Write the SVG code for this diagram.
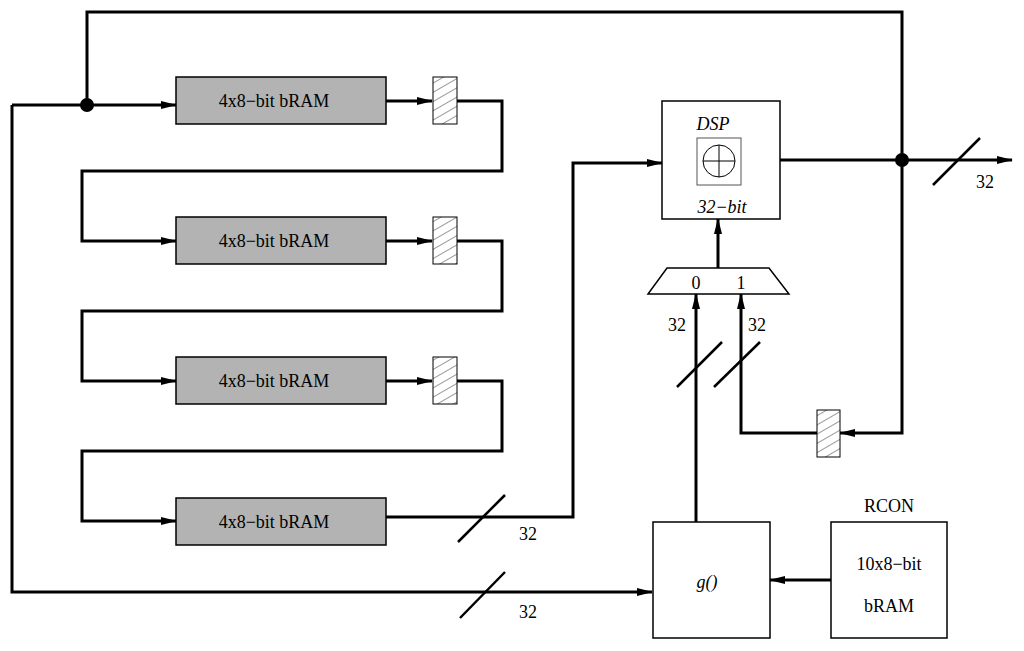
<svg xmlns="http://www.w3.org/2000/svg" width="1024" height="651" viewBox="0 0 1024 651">
<style>
.w{fill:none;stroke:#000;stroke-width:3}
.b{fill:#fff;stroke:#000;stroke-width:1.5}
.g{fill:#b3b3b3;stroke:#000;stroke-width:1.5}
.h{fill:url(#hatch);stroke:#000;stroke-width:1}
text{font-family:"Liberation Serif",serif;font-size:18px;text-anchor:middle}
.i{font-style:italic}
</style>
<defs>
<pattern id="hatch" width="8" height="8" patternUnits="userSpaceOnUse" patternTransform="rotate(-30)">
<rect width="8" height="8" fill="#fff"/><line x1="0" y1="0" x2="8" y2="0" stroke="#555" stroke-width="1.2"/>
</pattern>
<marker id="a" markerWidth="16" markerHeight="8" refX="15" refY="4" orient="auto" markerUnits="userSpaceOnUse"><path d="M0,0 L16,4 L0,8 Z"/></marker>
</defs>
<g id="connectors">
<path class="w" d="M386,101 H432" marker-end="url(#a)"/>
<path class="w" d="M456,101 H502 V171 H82 V241 H176" marker-end="url(#a)"/>
<path class="w" d="M386,241 H432" marker-end="url(#a)"/>
<path class="w" d="M456,241 H502 V311 H82 V381 H176" marker-end="url(#a)"/>
<path class="w" d="M386,381 H432" marker-end="url(#a)"/>
<path class="w" d="M456,381 H502 V451 H82 V521 H176" marker-end="url(#a)"/>
<path class="w" d="M386,517 H573 V163 H662" marker-end="url(#a)"/>
<path class="w" d="M12,105 H176" marker-end="url(#a)"/>
<path class="w" d="M87,105 V12 H902 V433 H840" marker-end="url(#a)"/>
<path class="w" d="M817,433 H741 V294" marker-end="url(#a)"/>
<path class="w" d="M12,105 V592 H652" marker-end="url(#a)"/>
<path class="w" d="M780,160 H1012" marker-end="url(#a)"/>
<path class="w" d="M718,268 V219" marker-end="url(#a)"/>
<path class="w" d="M696,522 V294" marker-end="url(#a)"/>
<path class="w" d="M831,580 H770" marker-end="url(#a)"/>
<circle cx="87" cy="105" r="7"/>
<circle cx="902" cy="160" r="7"/>
<g stroke="#000" stroke-width="2.5">
<line x1="458" y1="542" x2="505" y2="495"/>
<line x1="460" y1="618" x2="505" y2="572"/>
<line x1="933" y1="185" x2="980" y2="138"/>
<line x1="677" y1="387" x2="722" y2="342"/>
<line x1="714" y1="387" x2="760" y2="342"/>
</g>
<text x="528" y="540">32</text>
<text x="528" y="618">32</text>
<text x="985" y="188">32</text>
<text x="677" y="331">32</text>
<text x="757" y="331">32</text>
</g>
<g id="bram1"><rect class="g" x="176" y="77" width="210" height="47"/><text x="274" y="107">4x8−bit bRAM</text></g>
<g id="bram2"><rect class="g" x="176" y="217" width="210" height="47"/><text x="274" y="247">4x8−bit bRAM</text></g>
<g id="bram3"><rect class="g" x="176" y="357" width="210" height="47"/><text x="274" y="387">4x8−bit bRAM</text></g>
<g id="bram4"><rect class="g" x="176" y="498" width="210" height="47"/><text x="274" y="528">4x8−bit bRAM</text></g>
<g id="reg1"><rect class="h" x="433" y="77" width="24" height="47"/></g>
<g id="reg2"><rect class="h" x="433" y="217" width="24" height="47"/></g>
<g id="reg3"><rect class="h" x="433" y="357" width="24" height="47"/></g>
<g id="reg4"><rect class="h" x="817" y="410" width="23" height="47"/></g>
<g id="dsp">
<rect class="b" x="662" y="101" width="118" height="118"/>
<text class="i" x="713" y="130">DSP</text>
<rect fill="#fff" stroke="#555" stroke-width="1" x="697" y="138" width="44" height="47"/>
<circle cx="719" cy="161" r="16" fill="none" stroke="#000" stroke-width="1"/>
<path d="M703,161 H735 M719,145 V177" stroke="#000" stroke-width="1"/>
<text class="i" x="722" y="213">32−bit</text>
</g>
<g id="mux">
<path class="b" d="M667,268 H769 L789,294 H648 Z"/>
<text x="696" y="289">0</text><text x="741" y="289">1</text>
</g>
<g id="g"><rect class="b" x="653" y="522" width="117" height="116"/><text class="i" x="707" y="588" font-size="21">g()</text></g>
<g id="rcon"><rect class="b" x="831" y="522" width="116" height="116"/>
<text x="889" y="512">RCON</text><text x="889" y="570">10x8−bit</text><text x="889" y="612">bRAM</text></g>
</svg>
